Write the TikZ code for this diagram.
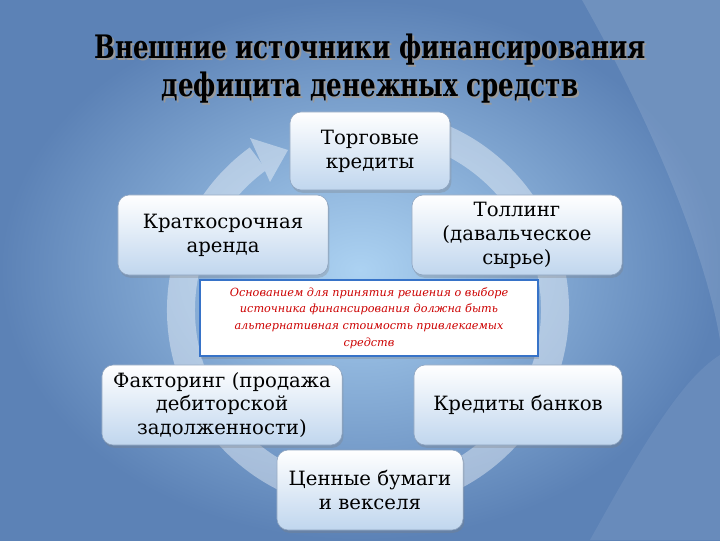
\documentclass[tikz,border=0pt]{standalone}
\usepackage{fontspec}
\usepackage{graphicx}
\setmainfont{DejaVu Serif}
\usetikzlibrary{shadows}
\definecolor{bgdark}{RGB}{92,130,182}
\definecolor{bglight}{RGB}{172,210,242}
\definecolor{boxbottom}{RGB}{192,214,238}
\definecolor{boxedge}{RGB}{140,162,190}
\definecolor{noteblue}{RGB}{55,115,200}
\definecolor{notered}{RGB}{205,0,0}
\newcommand{\headtext}{\scalebox{0.76}[1]{\begin{tabular}{@{}c@{}}Внешние источники финансирования\\дефицита денежных средств\end{tabular}}}

\begin{document}
\begin{tikzpicture}[x=0.025cm,y=-0.025cm]
  \tikzset{source/.style={draw=boxedge,rounded corners=8pt,top color=white,bottom color=boxbottom,
      align=center,inner sep=2pt,font=\rmfamily\fontsize{14}{17}\selectfont,
      drop shadow={shadow xshift=1pt,shadow yshift=-2pt,opacity=0.3}}}
  \tikzset{note/.style={draw=noteblue,line width=2pt,fill=white,align=center,text=notered,
      font=\rmfamily\itshape\fontsize{8}{11.8}\selectfont,
      drop shadow={shadow xshift=1pt,shadow yshift=-2pt,opacity=0.3}}}
  \tikzset{heading/.style={inner sep=0pt,font=\bfseries\fontsize{23}{26.5}\selectfont}}
  \useasboundingbox (0,0) rectangle (720,540);
  % background
  \shade[inner color=bglight,outer color=bgdark] (0,0) rectangle (720,540);
  \fill[white,opacity=0.12] (582,0) .. controls (650,120) and (705,250) .. (720,340) -- (720,0) -- cycle;
  \fill[white,opacity=0.08] (590,540) .. controls (640,450) and (680,380) .. (720,355) -- (720,540) -- cycle;
  % cycle arrow
  \begin{scope}[transparency group,opacity=0.4]
    \draw[white,line width=0.7cm] (368,310) ++(-80:187) arc[start angle=-80,end angle=234,radius=187];
    \fill[white] (250,138) -- (288,150) -- (270,182) -- cycle;
  \end{scope}
  % title
  \node[heading,black!40] at (372,72) {\headtext};
  \node[heading] (title) at (370,70) {\headtext};
  % sources
  \node[source,minimum width=4cm,minimum height=1.95cm] (trade) at (370,151) {Торговые\\кредиты};
  \node[source,minimum width=5.25cm,minimum height=2cm] (lease) at (223,235) {Краткосрочная\\аренда};
  \node[source,minimum width=5.25cm,minimum height=2cm] (toll) at (517,235) {Толлинг\\(давальческое\\сырье)};
  \node[source,minimum width=6cm,minimum height=2cm] (factor) at (222,405) {Факторинг (продажа\\дебиторской\\задолженности)};
  \node[source,minimum width=5.2cm,minimum height=2cm] (banks) at (518,405) {Кредиты банков};
  \node[source,minimum width=4.65cm,minimum height=2cm] (bills) at (370,490) {Ценные бумаги\\и векселя};
  % note
  \node[note,minimum width=8.45cm,minimum height=1.9cm] (basis) at (369,318)
    {Основанием для принятия решения о выборе\\источника финансирования должна быть\\альтернативная стоимость привлекаемых\\средств};
\end{tikzpicture}
\end{document}
